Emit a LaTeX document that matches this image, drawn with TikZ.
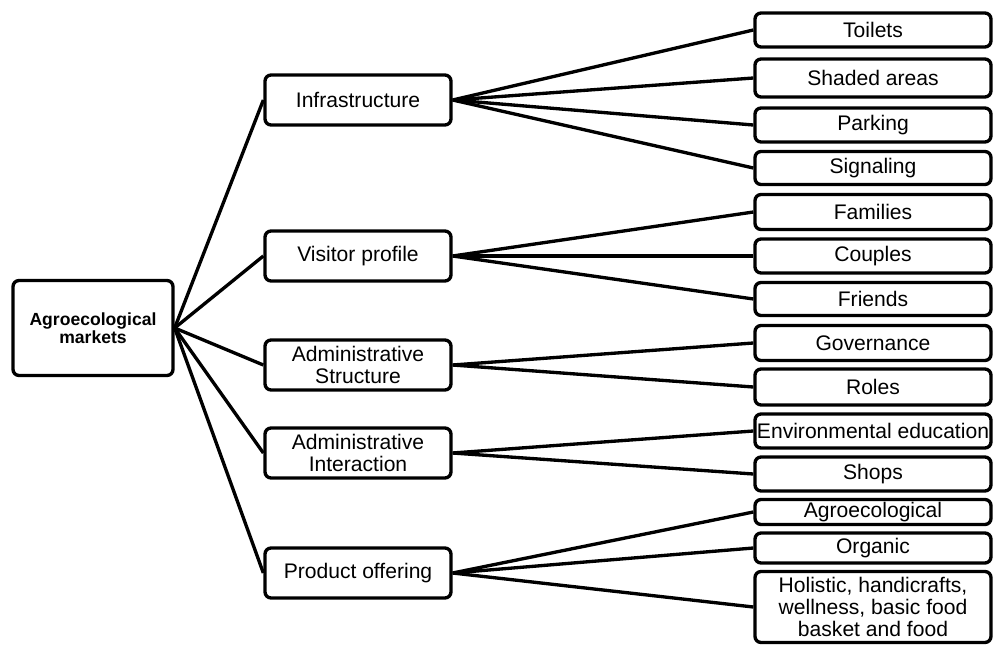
\documentclass[tikz,border=0pt]{standalone}
\usepackage{fontspec}
\setmainfont{Liberation Sans}
\usetikzlibrary{positioning}

\begin{document}
\begin{tikzpicture}[x=0.02cm,y=-0.02cm,
    box/.style={draw,rounded corners=0.12cm,line width=1.9pt,align=center,inner sep=0pt,
        font=\fontsize{12}{12.5}\selectfont},
    rootbox/.style={box,minimum width=3.2cm,minimum height=1.9cm,
        font=\fontsize{10}{10.5}\selectfont\bfseries},
    midbox/.style={box,minimum width=3.72cm,minimum height=1.0cm},
    leafbox/.style={box,minimum width=4.72cm,minimum height=0.68cm},
    link/.style={line width=1.9pt}]
    \useasboundingbox (0,0) rectangle (995,646);

    \node[rootbox] (root) at (93,328) {Agroecological\\markets};

    % second level
    \node[midbox] (infra) at (358,100) {Infrastructure};
    \node[midbox] (visit) at (358,256) {Visitor profile};
    \node[midbox] (astruct) at (358,365) {Administrative\\Structure};
    \node[midbox] (ainter) at (358,453) {Administrative\\Interaction};
    \node[midbox] (offer) at (358,573) {Product offering};

    % leaves
    \node[leafbox] (toilets) at (873,30) {Toilets};
    \node[leafbox,minimum height=0.76cm] (shaded) at (873,78) {Shaded areas};
    \node[leafbox] (parking) at (873,125) {Parking};
    \node[leafbox,minimum height=0.66cm] (signal) at (873,168) {Signaling};
    \node[leafbox,minimum height=0.70cm] (families) at (873,212) {Families};
    \node[leafbox] (couples) at (873,256) {Couples};
    \node[leafbox,minimum height=0.66cm] (friends) at (873,299) {Friends};
    \node[leafbox,minimum height=0.70cm] (govern) at (873,343) {Governance};
    \node[leafbox,minimum height=0.72cm] (roles) at (873,387) {Roles};
    \node[leafbox] (enved) at (873,431) {Environmental education};
    \node[leafbox] (shops) at (873,474) {Shops};
    \node[leafbox,minimum height=0.50cm] (agro) at (873,512) {Agroecological};
    \node[leafbox,minimum height=0.60cm] (organic) at (873,548) {Organic};
    \node[leafbox,minimum height=1.42cm] (holistic) at (873,607)
        {Holistic, handicrafts,\\wellness, basic food\\basket and food};

    % connectors
    \foreach \m in {infra,visit,astruct,ainter,offer}
        \draw[link] (root.east) -- (\m.west);
    \foreach \l in {toilets,shaded,parking,signal}
        \draw[link] (infra.east) -- (\l.west);
    \foreach \l in {families,couples,friends}
        \draw[link] (visit.east) -- (\l.west);
    \foreach \l in {govern,roles}
        \draw[link] (astruct.east) -- (\l.west);
    \foreach \l in {enved,shops}
        \draw[link] (ainter.east) -- (\l.west);
    \foreach \l in {agro,organic,holistic}
        \draw[link] (offer.east) -- (\l.west);
\end{tikzpicture}
\end{document}
